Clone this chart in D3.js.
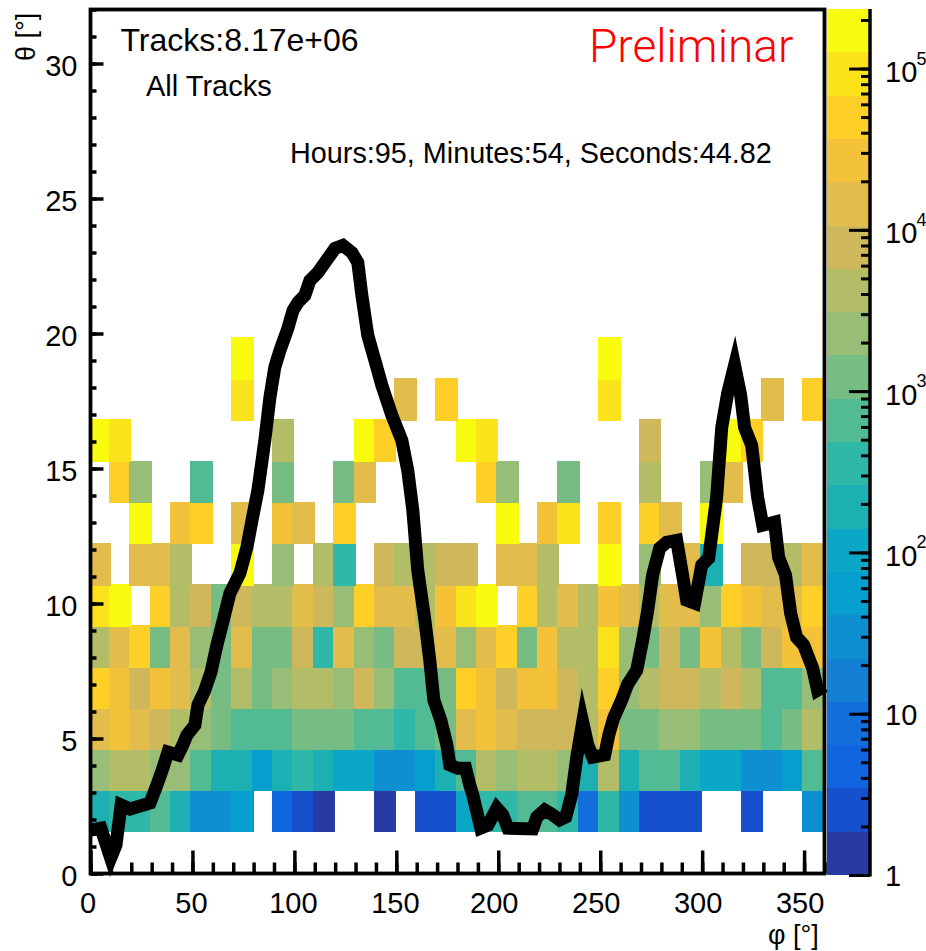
<!DOCTYPE html>
<html>
<head>
<meta charset="utf-8">
<script src="https://cdn.jsdelivr.net/npm/d3@7"></script>
<style>
html,body{margin:0;padding:0;background:#fff;}
svg{display:block;}
text{font-family:"Liberation Sans",Arial,sans-serif;fill:#000;}
</style>
</head>
<body>
<div id="chart"></div>
<script>
// Colour levels of the palette, low to high
const palette = ["#283ba5","#1750cc","#1066e0","#1270dc","#1380d6","#0e8fd1","#069dcf","#0aa8c6","#1db0b3","#2fb8a8",
  "#52bb94","#77bd83","#98bd76","#b3bc67","#cfb85b","#e2bd4c","#f4c238","#fed027","#fbe31c","#f9fb0e"];
const zMin = 1, zMax = 234000;
const phiBinWidth = 10;
const thetaBinWidth = 32 / 21;

// Counts per phi bin, for theta bins 1..12 (0 = empty)
const thetaBin1 = [190,350,350,650,190,30,30,55,0,4,2,1,0,0,1,0,2,2,100,350,350,650,650,350,8,350,30,2,2,2,0,0,2,0,0,30];
const thetaBin2 = [2200,4100,4100,2200,2200,650,190,190,55,190,350,190,100,100,30,30,55,190,650,4100,2200,4100,4100,2200,190,4100,190,650,650,190,100,100,30,30,55,650];
const thetaBin3 = [14000,26000,14000,7700,4100,2200,1200,650,650,650,1200,1200,1200,650,650,350,650,1200,14000,26000,14000,7700,7700,7700,4100,26000,1200,1200,2200,2200,1200,1200,1200,650,1200,4100];
const thetaBin4 = [49000,26000,7700,26000,14000,4100,1200,4100,1200,2200,4100,4100,2200,7700,2200,650,650,1200,49000,26000,7700,26000,26000,7700,4100,49000,2200,4100,7700,7700,4100,7700,4100,650,650,2200];
const thetaBin5 = [4100,14000,49000,1200,14000,2200,1200,14000,1200,1200,7700,350,14000,2200,1200,7700,7700,14000,2200,14000,49000,1200,26000,4100,4100,91000,2200,1200,7700,1200,26000,4100,1200,7700,26000,26000];
const thetaBin6 = [91000,170000,0,49000,4100,7700,1200,7700,4100,4100,14000,7700,2200,49000,14000,14000,4100,26000,91000,170000,0,49000,4100,14000,4100,26000,14000,4100,14000,14000,2200,49000,26000,14000,14000,49000];
const thetaBin7 = [14000,0,14000,14000,4100,0,0,170000,0,2200,0,4100,350,0,7700,4100,4100,7700,7700,0,14000,14000,4100,0,0,170000,0,2200,0,14000,190,0,7700,7700,4100,14000];
const thetaBin8 = [0,0,170000,0,26000,49000,0,14000,0,26000,14000,0,49000,0,0,0,0,0,0,0,170000,0,26000,91000,0,49000,0,49000,14000,0,170000,0,0,0,0,0];
const thetaBin9 = [0,49000,2200,0,0,650,0,0,0,1200,0,0,1200,14000,0,0,0,0,0,49000,2200,0,0,1200,0,0,0,4100,0,0,2200,14000,0,0,0,0];
const thetaBin10 = [170000,91000,0,0,0,0,0,0,0,4100,0,0,0,170000,49000,0,0,0,170000,91000,0,0,0,0,0,0,0,7700,0,0,0,170000,49000,0,0,0];
const thetaBin11 = [0,0,0,0,0,0,0,91000,0,0,0,0,0,0,0,14000,0,49000,0,0,0,0,0,0,0,91000,0,0,0,0,0,0,0,14000,0,49000];
const thetaBin12 = [0,0,0,0,0,0,0,170000,0,0,0,0,0,0,0,0,0,0,0,0,0,0,0,0,0,170000,0,0,0,0,0,0,0,0,0,0];
const thetaBins = [thetaBin1,thetaBin2,thetaBin3,thetaBin4,thetaBin5,thetaBin6,thetaBin7,thetaBin8,thetaBin9,thetaBin10,thetaBin11,thetaBin12];

// Horizon curve
const curvePhi = [0,5.1,9.9,12.5,15,19.4,29.2,32.6,35.5,38,42.9,45.3,47.3,51.2,52.7,56.1,59.1,62,64.5,68.4,73.3,76.7,79.2,82.1,85.5,88,90.4,92.9,96.8,99.3,101.7,105.1,107.6,111.5,115,119.9,123.8,128.2,131.1,133.1,136,139.5,142.9,147.8,152.7,155.6,158.1,160.5,164,166.4,168.4,171.8,174.8,176.2,180.1,184,186,187.5,191.4,194.9,199.3,202.2,204.7,216.9,218.9,222.8,226.2,230.1,233.1,236,238.5,241.4,243.9,246.3,252.2,254.2,256.6,260.5,263.5,267.9,270.8,273.3,275.7,279.2,282.6,287.5,290.4,292.4,296.3,299.8,303.2,307.1,309.6,312.5,315.9,318.9,320.8,324.3,327.2,329.7,335.5,337.5,340.9,343.4,346.3,349.8,354.2,356.6,360];
const curveTheta = [1.61,1.68,0.57,1.05,2.54,2.39,2.61,3.28,3.9,4.5,4.39,4.76,5.13,5.5,6.24,6.79,7.46,8.46,9.2,10.38,11.12,12.08,13.08,14.19,16.04,17.63,18.75,19.37,20.19,20.85,21.15,21.41,21.96,22.26,22.63,23.15,23.26,23,22.63,21.41,19.93,19,18.08,16.97,16.04,14.93,13.45,11.23,9.38,7.9,6.42,5.68,4.76,4.02,3.9,3.9,3.28,2.91,1.68,1.79,2.42,2.17,1.68,1.65,2.09,2.35,2.2,1.98,2.09,2.91,4.31,5.61,4.76,4.31,4.39,5.13,5.76,6.42,7.01,7.53,8.64,9.75,11.05,12.05,12.27,12.34,11.05,10.12,10.01,11.42,11.68,13.93,16.52,17.78,18.82,17.71,16.52,15.86,13.93,12.9,13.01,11.71,11.05,9.64,8.75,8.46,7.61,6.79,6.94];

// Axis ticks and labels
const phiMajor = [0,50,100,150,200,250,300,350];
const phiMinor = d3.range(0,361,10);
const thetaMajor = [0,5,10,15,20,25,30];
const thetaMinor = d3.range(0,33,1);
const zLabels = [{v:1,b:"1",e:""},{v:10,b:"10",e:""},{v:100,b:"10",e:"2"},{v:1000,b:"10",e:"3"},{v:10000,b:"10",e:"4"},{v:100000,b:"10",e:"5"}];
const zMinor = [1,2,3,4,5,6,7,8,9,10,20,30,40,50,60,70,80,90,100,200,300,400,500,600,700,800,900,1000,2000,3000,4000,5000,6000,7000,8000,9000,10000,20000,30000,40000,50000,60000,70000,80000,90000,100000,200000];

const W = 926, H = 951;
const svg = d3.select("#chart").append("svg").attr("width",W).attr("height",H);

const x = d3.scaleLinear().domain([0,360]).range([90.5,824.5]);
const y = d3.scaleLinear().domain([0,32]).range([873.5,9.5]);
const z = d3.scaleLog().domain([zMin,zMax]).range([875,9]);
const colorOf = d3.scaleQuantize().domain([0,Math.log10(zMax)]).range(palette);

// Histogram cells: each cell slightly overlaps its left and upper neighbour side, as in the reference
const bleedX = 2, bleedY = 1.5;
const cells = [];
thetaBins.forEach((row,r)=>row.forEach((v,c)=>{ if(v>0) cells.push({r:r+1,c,v}); }));
svg.append("g").selectAll("rect").data(cells).join("rect")
  .attr("x",d=>x(d.c*phiBinWidth)-(d.c>0?bleedX:0))
  .attr("width",d=>x((d.c+1)*phiBinWidth)-x(d.c*phiBinWidth)+(d.c>0?bleedX:0))
  .attr("y",d=>y((d.r+1)*thetaBinWidth)-bleedY)
  .attr("height",d=>y(d.r*thetaBinWidth)-y((d.r+1)*thetaBinWidth)+bleedY)
  .attr("fill",d=>colorOf(Math.log10(d.v)))
  .attr("shape-rendering","crispEdges");

// Colour bar
const zStep = Math.log10(zMax)/palette.length;
svg.append("g").selectAll("rect").data(palette).join("rect")
  .attr("x",827).attr("width",42)
  .attr("y",(d,i)=>z(Math.pow(10,(i+1)*zStep)))
  .attr("height",(d,i)=>z(Math.pow(10,i*zStep))-z(Math.pow(10,(i+1)*zStep)))
  .attr("fill",d=>d)
  .attr("shape-rendering","crispEdges");

function styleAxis(g,w){
  g.selectAll("path").remove();
  g.selectAll("line").attr("stroke","#000").attr("stroke-width",w);
}
// Minor ticks
svg.append("g").attr("transform",`translate(0,${y(0)})`)
  .call(d3.axisBottom(x).tickValues(phiMinor).tickSize(-11).tickFormat(""))
  .call(styleAxis,3.5).selectAll("text").remove();
svg.append("g").attr("transform",`translate(${x(0)},0)`)
  .call(d3.axisLeft(y).tickValues(thetaMinor).tickSize(-6).tickFormat(""))
  .call(styleAxis,3.5).selectAll("text").remove();
// Major ticks and labels
const ax = svg.append("g").attr("transform",`translate(0,${y(0)})`)
  .call(d3.axisBottom(x).tickValues(phiMajor).tickSizeInner(-23).tickPadding(19).tickFormat(d3.format("d")))
  .call(styleAxis,3.5);
ax.selectAll("text").attr("font-size",29).attr("fill","#000").attr("font-family",'"Liberation Sans"')
  .attr("dx",d=>d===0?-3:(d<200?-1.5:-4.5));
const ay = svg.append("g").attr("transform",`translate(${x(0)},0)`)
  .call(d3.axisLeft(y).tickValues(thetaMajor).tickSizeInner(-13).tickPadding(13).tickFormat(d3.format("d")))
  .call(styleAxis,3.5);
ay.selectAll("text").attr("font-size",29).attr("fill","#000").attr("font-family",'"Liberation Sans"').attr("dy","0.4em");

// Frame
svg.append("rect").attr("x",x(0)).attr("y",y(32)).attr("width",x(360)-x(0)).attr("height",y(0)-y(32))
  .attr("fill","none").attr("stroke","#000").attr("stroke-width",3.8);

// Colour bar axis
svg.append("g").attr("transform","translate(870,0)")
  .call(d3.axisRight(z).tickValues(zMinor).tickSize(-9).tickFormat(""))
  .call(styleAxis,3).selectAll("text").remove();
svg.append("g").attr("transform","translate(870,0)")
  .call(d3.axisRight(z).tickValues(zLabels.map(d=>d.v)).tickSize(-21).tickFormat(""))
  .call(styleAxis,3).selectAll("text").remove();
svg.append("line").attr("x1",870).attr("x2",870).attr("y1",z(zMax)).attr("y2",z(1)+1.5).attr("stroke","#000").attr("stroke-width",3.5);
svg.append("g").selectAll("text").data(zLabels).join("text")
  .attr("x",885).attr("y",d=>z(d.v)-1.5+(d.e?15:12.5)).attr("font-size",29).text(d=>d.b);
svg.append("g").selectAll("text").data(zLabels.filter(d=>d.e)).join("text")
  .attr("x",916.5).attr("y",d=>z(d.v)-1.5-2.5).attr("font-size",18).text(d=>d.e);

// Curve
const line = d3.line().x((d,i)=>x(curvePhi[i])).y(d=>y(d));
svg.append("path").datum(curveTheta).attr("d",line).attr("fill","none")
  .attr("stroke","#000").attr("stroke-width",13).attr("stroke-linejoin","miter").attr("stroke-miterlimit",10);

// Annotations
svg.append("text").attr("x",120.5).attr("y",51).attr("font-size",32).text("Tracks:8.17e+06");
svg.append("text").attr("x",146).attr("y",96).attr("font-size",29).text("All Tracks");
svg.append("text").attr("x",290).attr("y",163).attr("font-size",28.8).text("Hours:95, Minutes:54, Seconds:44.82");
svg.append("text").attr("x",589).attr("y",62).attr("font-size",46).style("font-family","Roboto").style("font-weight",300).style("fill","#ff0000").text("Preliminar");
svg.append("text").attr("x",768).attr("y",944).attr("font-size",27).text("φ [°]");
svg.append("text").attr("transform","translate(35,61) rotate(-90)").attr("font-size",27).text("θ [°]");
</script>
</body>
</html>
